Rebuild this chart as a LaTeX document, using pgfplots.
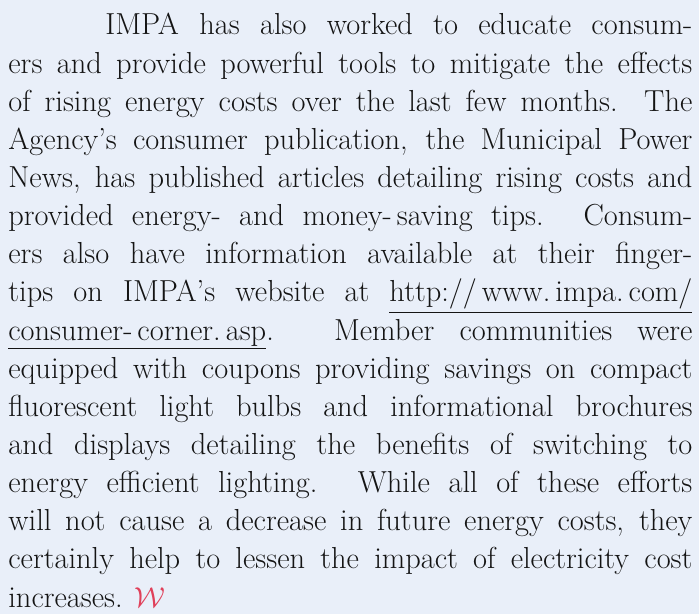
\documentclass[border=0pt]{standalone}
\usepackage{fontspec}
\usepackage{pgfplots}
\pgfplotsset{compat=1.18}
\definecolor{bgblue}{HTML}{E9EFF9}
\definecolor{txt}{HTML}{141414}
\definecolor{wred}{HTML}{E0405A}
\begin{document}
\begin{tikzpicture}
\begin{axis}[
  scale only axis, width=349.5pt, height=307pt,
  xmin=0, xmax=349.5, ymin=0, ymax=307,
  axis lines=none, ticks=none,
  axis background/.style={fill=bgblue},
  clip=false]
\addplot[draw=none] coordinates {(0,0)};
\node[anchor=base west, inner sep=0pt, text=txt, font=\fontsize{15.2}{19.07}\selectfont] at (axis cs:4,289.5) {\parbox[t]{342pt}{\fontsize{15.2}{19.07}\selectfont\leavevmode\hspace*{48.5pt}IMPA has also worked to educate consum-\linebreak
ers and provide powerful tools to mitigate the effects\linebreak
of rising energy costs over the last few months. The\linebreak
Agency's consumer publication, the Municipal Power\linebreak
News, has published articles detailing rising costs and\linebreak
provided energy- and money-\,saving tips. Consum-\linebreak
ers also have information available at their finger-\linebreak
tips on IMPA's website at \underline{http://\,www.\,impa.\,com/}\linebreak
\underline{consumer-\,corner.\,asp}. Member communities were\linebreak
equipped with coupons providing savings on compact\linebreak
fluorescent light bulbs and informational brochures\linebreak
and displays detailing the benefits of switching to\linebreak
energy efficient lighting. While all of these efforts\linebreak
will not cause a decrease in future energy costs, they\linebreak
certainly help to lessen the impact of electricity cost\linebreak
increases. {\color{wred}$\mathcal{W}$}}};
\end{axis}
\end{tikzpicture}
\end{document}
